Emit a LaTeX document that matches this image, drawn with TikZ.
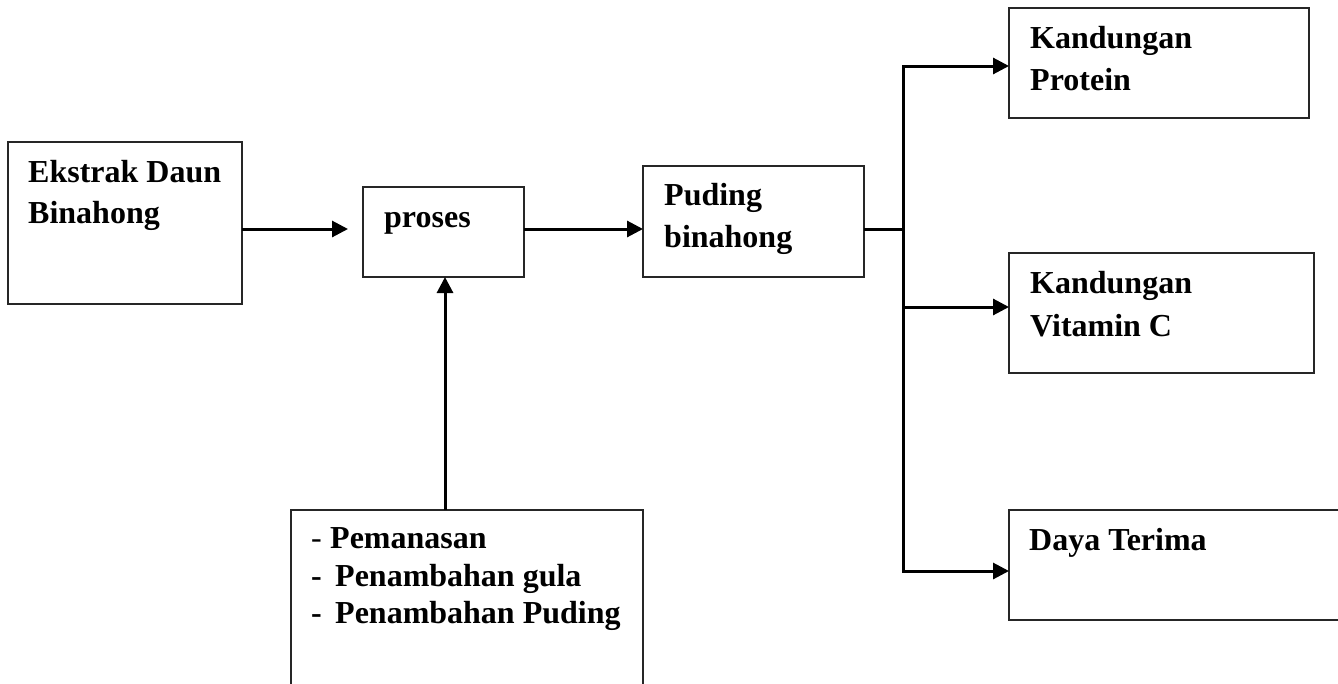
\documentclass[tikz,border=0pt]{standalone}
\usepackage{fontspec}
\setmainfont{Liberation Serif}
\usetikzlibrary{arrows.meta}
\tikzset{
  box/.style={draw=black!85, line width=1.3pt, rectangle, inner sep=0pt, outer sep=0pt, anchor=north west},
  lbl/.style={anchor=base west, inner sep=0pt, font=\fontsize{32}{42}\selectfont\bfseries},
  arr/.style={draw=black, line width=3pt, -{Triangle[length=16pt,width=16pt]}},
  ln/.style={draw=black, line width=3pt}
}
\begin{document}
\begin{tikzpicture}[x=1pt,y=-1pt]
\clip (0,0) rectangle (1338,683);
\fill[white] (0,0) rectangle (1338,683);
% boxes
\node[box, minimum width=234, minimum height=162] (ek) at (8,142) {};
\node[box, minimum width=161, minimum height=90] (pr) at (363,187) {};
\node[box, minimum width=221, minimum height=111] (pd) at (643,166) {};
\node[box, minimum width=300, minimum height=110] (kp) at (1009,8) {};
\node[box, minimum width=305, minimum height=120] (kv) at (1009,253) {};
\node[box, minimum width=340, minimum height=110] (dt) at (1009,510) {};
\node[box, minimum width=352, minimum height=190] (bx) at (291,510) {};
% texts
\node[lbl] (t1) at (28,182) {Ekstrak Daun};
\node[lbl] (t2) at (28,223) {Binahong};
\node[lbl] (t3) at (384,227) {proses};
\node[lbl] (t4) at (664,205) {Puding};
\node[lbl] (t5) at (664,247) {binahong};
\node[lbl] (t6) at (1030,48) {Kandungan};
\node[lbl] (t7) at (1030,90) {Protein};
\node[lbl] (t8) at (1030,293) {Kandungan};
\node[lbl] (t9) at (1030,336) {Vitamin C};
\node[lbl] (t10) at (1029,550) {Daya Terima};
\node[lbl, font=\fontsize{32}{42}\selectfont] (d1) at (311,548) {-};
\node[lbl] (t11) at (330,548) {Pemanasan};
\node[lbl] (d2) at (311,586) {-};
\node[lbl] (t12) at (335,586) {Penambahan gula};
\node[lbl] (d3) at (311,623) {-};
\node[lbl] (t13) at (335,623) {Penambahan Puding};
% connectors
\coordinate (row) at (0,229);
\coordinate (jt) at (903,66);
\coordinate (jm) at (903,229);
\coordinate (jv) at (903,307);
\coordinate (jb) at (903,571);
\draw[arr, shorten >=15pt] (ek.east |- row) -- (pr.west |- row);
\draw[arr] (pr.east |- row) -- (pd.west |- row);
\draw[ln] (pd.east |- row) -- (jm);
\draw[ln, line cap=rect] (jt) -- (jb);
\draw[arr] (jt) -- (kp.west |- jt);
\draw[arr] (jv) -- (kv.west |- jv);
\draw[arr] (jb) -- (dt.west |- jb);
\draw[arr] (bx.north -| 445,0) -- (pr.south -| 445,0);
\end{tikzpicture}
\end{document}
